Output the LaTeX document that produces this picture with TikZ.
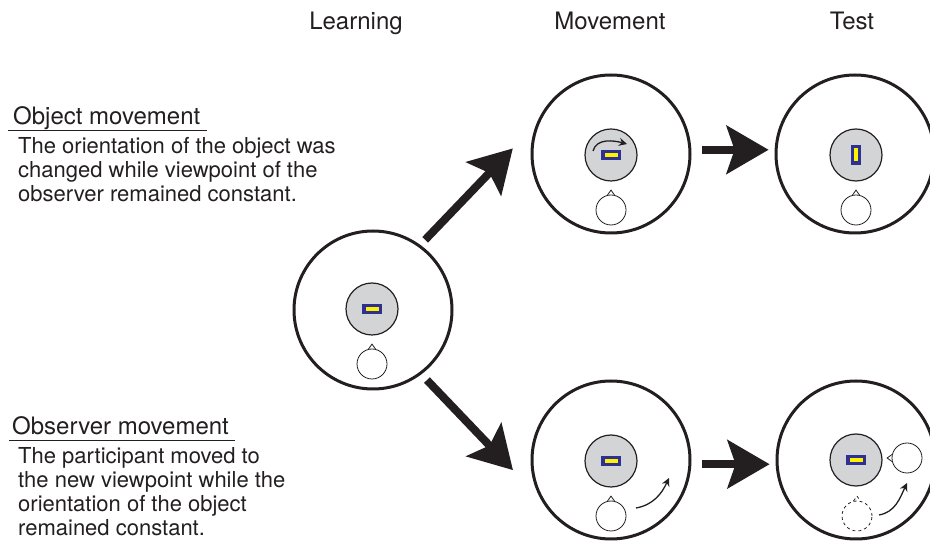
\documentclass[tikz,border=0pt]{standalone}
\usepackage{fontspec}
\setmainfont{TeX Gyre Heros}
\usetikzlibrary{arrows.meta}
\definecolor{ink}{HTML}{231F20}
\definecolor{standgray}{HTML}{D3D4D6}
\definecolor{objblue}{HTML}{2E3192}
\definecolor{objyellow}{HTML}{FFF200}

\begin{document}
\begin{tikzpicture}[x=1pt, y=1pt, ink,
	room/.style={circle, draw=ink, line width=3pt, minimum size=158pt, inner sep=0pt},
	stand/.style={circle, draw=ink, fill=standgray, line width=1.2pt, minimum size=52pt, inner sep=0pt},
	objbox/.style={rectangle, fill=objblue, minimum width=20pt, minimum height=10pt, inner sep=0pt},
	objbar/.style={rectangle, fill=objyellow, minimum width=13pt, minimum height=3.5pt, inner sep=0pt},
	head/.style={circle, draw=ink, fill=white, line width=0.8pt, minimum size=30pt, inner sep=0pt},
	nose/.style={draw=ink, line width=0.8pt, line join=miter},
	ghost/.style={dash pattern=on 3pt off 3pt},
	bigarrow/.style={line width=8pt, -{Stealth[length=42pt, width=48pt, inset=8pt]}},
	turnarrow/.style={line width=1.3pt, -{Stealth[length=8pt, width=8pt]}},
	rule/.style={line width=0.9pt},
	heading/.style={font=\fontsize{24}{28}\selectfont, inner sep=0pt},
	body/.style={font=\fontsize{22}{24}\selectfont, align=left, inner sep=0pt}]
	\useasboundingbox (0,0) rectangle (930,541);

	% column titles
	\node at (356,511) [heading, anchor=base] (learn) {Learning};
	\node at (610,511) [heading, anchor=base] (move) {Movement};
	\node at (852,511) [heading, anchor=base] (test) {Test};

	% conditions (base = last line)
	\node at (13,416) [heading, anchor=base west] (objcond) {Object movement};
	\draw[rule] (8,411) -- (207,411);
	\node at (18,339) [body, anchor=base west] (objtext) {The orientation of the object was\\changed while viewpoint of the\\observer remained constant.};
	\node at (12,106) [heading, anchor=base west] (obscond) {Observer movement};
	\draw[rule] (9,101) -- (235,101);
	\node at (18,5) [body, anchor=base west] (obstext) {The participant moved to\\the new viewpoint while the\\orientation of the object\\remained constant.};

	% learning
	\node at (373,231) [room] (L) {};
	\node at (372,232) [stand] (S1) {};
	\node at (S1) [objbox] {};
	\node at (S1) [objbar] {};
	\node at (372,177) [head] (H1) {};
	\draw[nose] (H1.103) -- ([yshift=4.5pt]H1.north) -- (H1.77);

	% object movement
	\node at (611,387) [room] (M1) {};
	\node at (611,386) [stand] (S2) {};
	\node at (S2) [objbox] {};
	\node at (S2) [objbar] {};
	\draw[turnarrow] (593,390) to[out=75, in=165] (627,397);
	\node at (611,331) [head] (H2) {};
	\draw[nose] (H2.103) -- ([yshift=4.5pt]H2.north) -- (H2.77);

	\node at (855,387) [room] (T1) {};
	\node at (856,386) [stand] (S3) {};
	\node at (S3) [objbox, rotate=90] {};
	\node at (S3) [objbar, rotate=90] {};
	\node at (856,331) [head] (H3) {};
	\draw[nose] (H3.103) -- ([yshift=4.5pt]H3.north) -- (H3.77);

	% observer movement
	\node at (611,81) [room] (M2) {};
	\node at (611,80) [stand] (S4) {};
	\node at (S4) [objbox] {};
	\node at (S4) [objbar] {};
	\node at (611,25) [head] (H4) {};
	\draw[nose] (H4.103) -- ([yshift=4.5pt]H4.north) -- (H4.77);
	\draw[turnarrow] (636,33) to[out=10, in=245] (669,63);

	\node at (856,81) [room] (T2) {};
	\node at (856,81) [stand] (S5) {};
	\node at (S5) [objbox] {};
	\node at (S5) [objbar] {};
	\node at (857,25) [head, ghost] (H5) {};
	\draw[nose, ghost] (H5.103) -- ([yshift=4.5pt]H5.north) -- (H5.77);
	\node at (907,83) [head] (H6) {};
	\draw[nose] (H6.167) -- ([xshift=-4.5pt]H6.west) -- (H6.193);
	\draw[turnarrow] (879,26) to[out=10, in=245] (907,58);

	% arrows
	\draw[bigarrow, shorten <=7pt, shorten >=34pt] (L.54) -- (M1.158);
	\draw[bigarrow, shorten <=8pt, shorten >=40pt] (L.-53) -- (M2.209);
	\draw[bigarrow, shorten <=11pt, shorten >=6pt] (M1.3) -- (T1.177);
	\draw[bigarrow, shorten <=11pt, shorten >=6pt] (M2.-3) -- (T2.183);
\end{tikzpicture}
\end{document}
